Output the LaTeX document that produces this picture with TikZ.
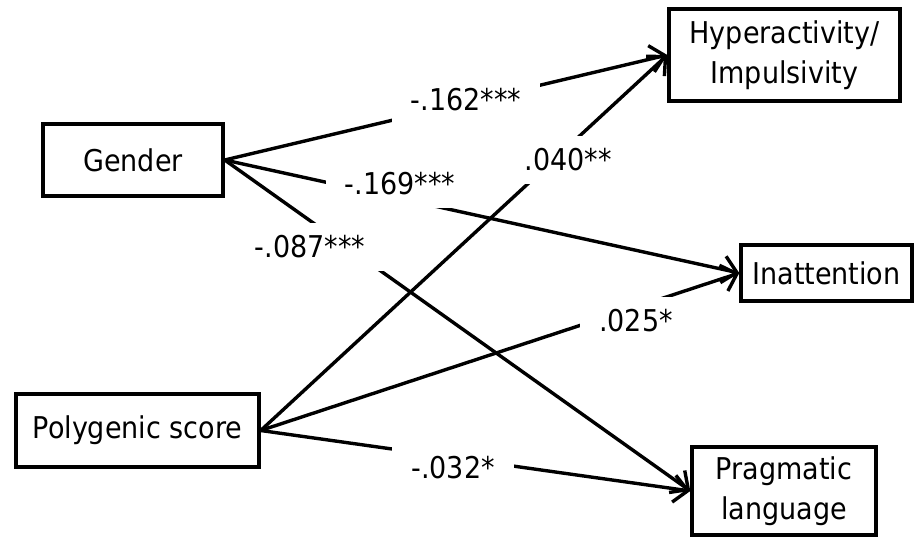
\documentclass[tikz,border=0pt]{standalone}
\usepackage{fontspec}
\setmainfont{DejaVu Sans Condensed}
\usetikzlibrary{arrows.meta}
\begin{document}
\begin{tikzpicture}[x=1pt,y=-1pt,
  font=\fontsize{30}{40}\selectfont,
  box/.style={draw, line width=3.4pt, align=center, inner sep=0pt},
  arr/.style={line width=3.4pt, -{Straight Barb[length=14pt,width=27pt]}},
  lbl/.style={fill=white, inner xsep=19pt, inner ysep=13pt}]
\useasboundingbox (0,0) rectangle (916,537);
\node[box, minimum width=180pt, minimum height=72pt] (g) at (133,160) {Gender};
\node[box, minimum width=243pt, minimum height=73pt] (p) at (137.5,430.5) {Polygenic score};
\node[box, minimum width=231pt, minimum height=92pt] (h) at (784.5,55) {Hyperactivity/\\Impulsivity};
\node[box, minimum width=171pt, minimum height=56pt] (i) at (826.5,273) {Inattention};
\node[box, minimum width=184pt, minimum height=88pt] (l) at (784,491) {Pragmatic\\language};
\draw[arr] (g.east) -- (h.west);
\draw[arr] (g.east) -- (i.west);
\draw[arr] (g.east) -- (l.west);
\draw[arr] (p.east) -- (h.west);
\draw[arr] (p.east) -- (i.west);
\draw[arr] (p.east) -- (l.west);
\node[lbl] (l1) at (466,100) {-.162***};
\node[lbl] (l2) at (400,184) {-.169***};
\node[lbl] (l3) at (310,247) {-.087***};
\node[lbl] (l4) at (568,160) {.040**};
\node[lbl] (l5) at (636,321) {.025*};
\node[lbl] (l6) at (453,468) {-.032*};
\end{tikzpicture}
\end{document}
